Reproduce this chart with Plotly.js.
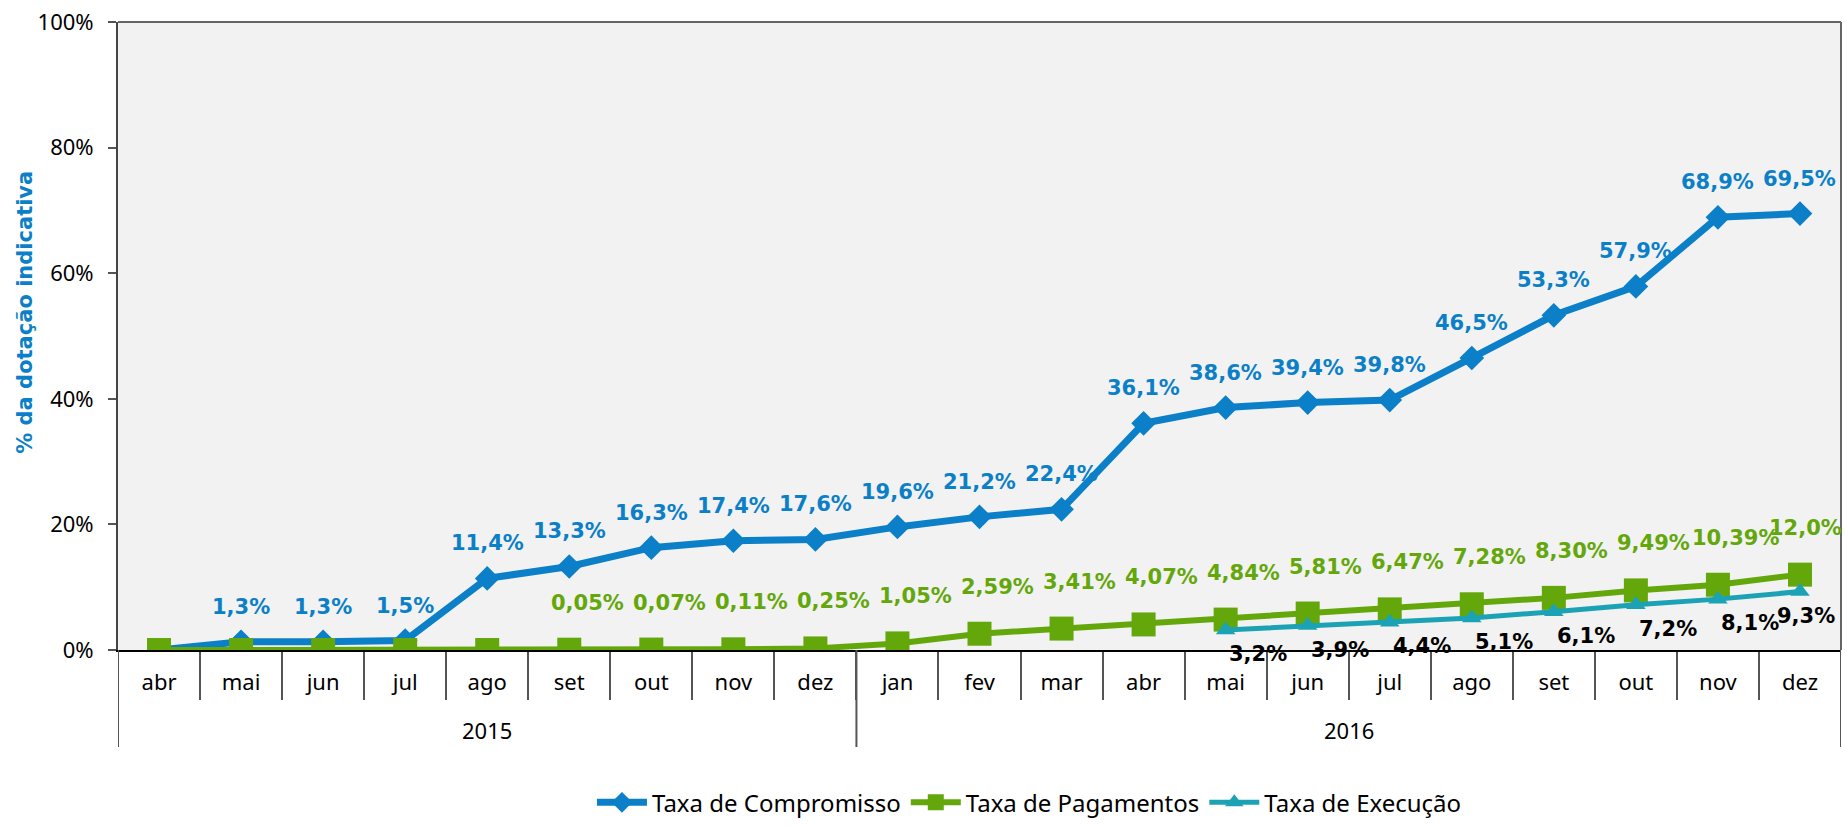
<!DOCTYPE html>
<html>
<head>
<meta charset="utf-8">
<script src="https://cdn.plot.ly/plotly-3.0.1.min.js"></script>
<style>html,body{margin:0;padding:0;background:#fff;}#chart{width:1845px;height:827px;}</style>
</head>
<body>
<div id="chart"></div>
<script>
// ---- data ----
const years = ["2015","2015","2015","2015","2015","2015","2015","2015","2015",
               "2016","2016","2016","2016","2016","2016","2016","2016","2016","2016","2016","2016"];
const months = ["abr","mai","jun","jul","ago","set","out","nov","dez",
                "jan","fev","mar","abr","mai","jun","jul","ago","set","out","nov","dez"];
const compromisso = [0, 1.3, 1.3, 1.5, 11.4, 13.3, 16.3, 17.4, 17.6,
                     19.6, 21.2, 22.4, 36.1, 38.6, 39.4, 39.8, 46.5, 53.3, 57.9, 68.9, 69.5];
const compromissoLabels = ["", "1,3%", "1,3%", "1,5%", "11,4%", "13,3%", "16,3%", "17,4%", "17,6%",
                     "19,6%", "21,2%", "22,4%", "36,1%", "38,6%", "39,4%", "39,8%", "46,5%", "53,3%", "57,9%", "68,9%", "69,5%"];
const pagamentos = [0, 0, 0, 0, 0, 0.05, 0.07, 0.11, 0.25,
                    1.05, 2.59, 3.41, 4.07, 4.84, 5.81, 6.47, 7.28, 8.30, 9.49, 10.39, 12.0];
const pagamentosLabels = ["", "", "", "", "", "0,05%", "0,07%", "0,11%", "0,25%",
                    "1,05%", "2,59%", "3,41%", "4,07%", "4,84%", "5,81%", "6,47%", "7,28%", "8,30%", "9,49%", "10,39%", "12,0%"];
const execucao = [null, null, null, null, null, null, null, null, null,
                  null, null, null, null, 3.2, 3.9, 4.4, 5.1, 6.1, 7.2, 8.1, 9.3];
const execucaoLabels = ["", "", "", "", "", "", "", "", "",
                  "", "", "", "", "3,2%", "3,9%", "4,4%", "5,1%", "6,1%", "7,2%", "8,1%", "9,3%"];
const yTickVals = [0, 20, 40, 60, 80, 100];
const yTickText = ["0%", "20%", "40%", "60%", "80%", "100%"];
const yTitle = "% da dotação indicativa";

// ---- styles ----
const cBlue = "#0B7FC7", cGreen = "#63A70B", cTeal = "#1BA3B5";
const tickFont = "Noto Sans, DejaVu Sans, sans-serif";
const labelFont = "DejaVu Sans, Verdana, sans-serif";
const idx = months.map((m, i) => i);

const traces = [
  {name: "Taxa de Compromisso", x: idx, y: compromisso, type: "scatter", mode: "lines+markers",
   line: {color: cBlue, width: 7}, marker: {symbol: "diamond", size: 19, color: cBlue}},
  {name: "Taxa de Pagamentos", x: idx, y: pagamentos, type: "scatter", mode: "lines+markers",
   line: {color: cGreen, width: 6}, marker: {symbol: "square", size: 24, color: cGreen}},
  {name: "Taxa de Execução", x: idx, y: execucao, type: "scatter", mode: "lines+markers",
   line: {color: cTeal, width: 5}, marker: {symbol: "triangle-up", size: 17, color: cTeal}}
];

const annotations = [];
function addLabels(vals, labels, color, dx, dy) {
  for (let i = 0; i < vals.length; i++) {
    if (vals[i] === null || !labels[i]) continue;
    const shift = (i === vals.length - 1) ? Math.min(dx, 6) : dx;
    annotations.push({x: i, y: vals[i], xref: "x", yref: "y", text: labels[i], showarrow: false,
      xshift: shift, yshift: dy, xanchor: "center", yanchor: "middle",
      font: {family: labelFont, size: 21, color: color, weight: "bold"}});
  }
}
addLabels(compromisso, compromissoLabels, cBlue, 0, 35);
addLabels(pagamentos, pagamentosLabels, cGreen, 18, 47);
addLabels(execucao, execucaoLabels, "#000000", 32, -24);

// y-axis title (placed like the reference: left of ticks, slightly above centre)
annotations.push({xref: "paper", yref: "paper", x: 0, y: 0.537, xshift: -93, text: yTitle,
  textangle: -90, showarrow: false, xanchor: "center", yanchor: "middle",
  font: {family: labelFont, size: 21, color: cBlue, weight: "bold"}});

// year groups: labels + dividers
const shapes = [
  {type: "line", xref: "paper", yref: "paper", x0: 0, x1: 1, y0: 1, y1: 1, line: {color: "#666", width: 2}},
  {type: "line", xref: "paper", yref: "paper", x0: 1, x1: 1, y0: 0, y1: 1, line: {color: "#666", width: 2}}
];
const groups = [];
years.forEach((y, i) => {
  if (!groups.length || groups[groups.length - 1].year !== y) groups.push({year: y, start: i, end: i});
  else groups[groups.length - 1].end = i;
});
const yearDivLen = 97 / 628;
groups.forEach((g, gi) => {
  annotations.push({x: (g.start + g.end) / 2, y: 0, xref: "x", yref: "paper", yshift: -80,
    text: g.year, showarrow: false, xanchor: "center", yanchor: "middle",
    font: {family: tickFont, size: 22, color: "#000"}});
  shapes.push({type: "line", xref: "x", yref: "paper", x0: g.start - 0.5, x1: g.start - 0.5,
    y0: 0, y1: -yearDivLen, line: {color: "#555", width: 2}});
  if (gi === groups.length - 1)
    shapes.push({type: "line", xref: "x", yref: "paper", x0: g.end + 0.5, x1: g.end + 0.5,
      y0: 0, y1: -yearDivLen, line: {color: "#555", width: 2}});
});
const boundaries = idx.slice(1).map(i => i - 0.5);

const layout = {
  width: 1845, height: 827,
  margin: {l: 118, r: 4, t: 22, b: 177, autoexpand: false},
  paper_bgcolor: "#ffffff", plot_bgcolor: "#F2F2F2",
  showlegend: true,
  legend: {orientation: "h", x: 0.529, xanchor: "center", y: -0.279, yanchor: "bottom",
           font: {family: tickFont, size: 24, color: "#000"}, bgcolor: "rgba(0,0,0,0)", itemwidth: 50, tracegroupgap: 0},
  xaxis: {type: "linear", range: [-0.5, months.length - 0.5], tickvals: idx, ticktext: months,
          showline: true, linecolor: "#000", linewidth: 2, ticks: "", ticklabelstandoff: 12,
          minor: {tickvals: boundaries, ticks: "outside", ticklen: 48, tickcolor: "#555", tickwidth: 2, showgrid: false},
          tickfont: {family: tickFont, size: 22, color: "#000"}, showgrid: false, zeroline: false},
  yaxis: {range: [0, 100], tickvals: yTickVals, ticktext: yTickText, ticks: "outside", ticklen: 8,
          tickcolor: "#555", tickwidth: 2, showline: true, linecolor: "#444", linewidth: 2, mirror: false,
          showgrid: false, zeroline: false, ticklabelstandoff: 10,
          tickfont: {family: tickFont, size: 22, color: "#000"}},
  shapes: shapes,
  annotations: annotations
};

Plotly.newPlot("chart", traces, layout, {displayModeBar: false, staticPlot: true});
</script>
</body>
</html>
